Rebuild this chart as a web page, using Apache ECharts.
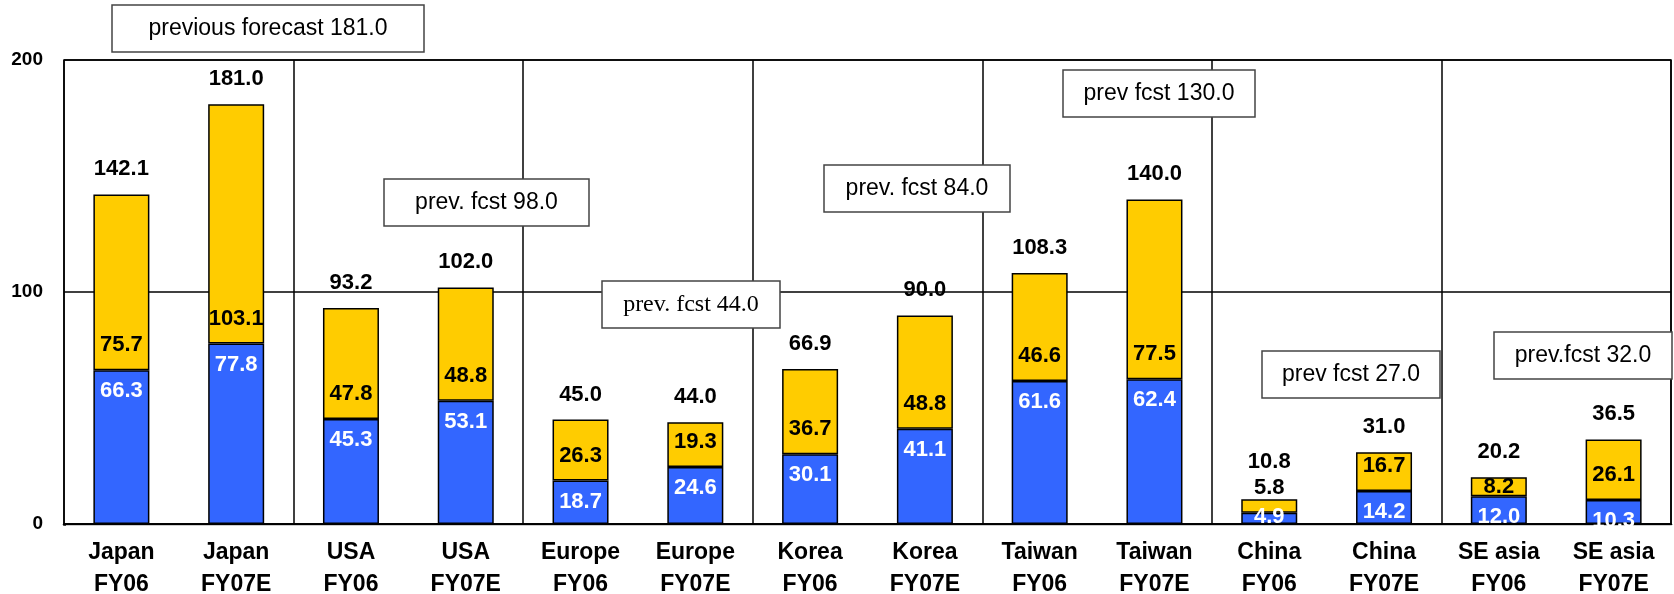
<!DOCTYPE html>
<html>
<head>
<meta charset="utf-8">
<script src="https://cdn.jsdelivr.net/npm/echarts@6/dist/echarts.min.js"></script>
<style>
  html, body { margin: 0; padding: 0; background: #ffffff; }
  #chart { width: 1674px; height: 594px; }
</style>
</head>
<body>
<div id="chart"></div>
<script>
// ---- data ----
const regions = ['Japan', 'Japan', 'USA', 'USA', 'Europe', 'Europe', 'Korea', 'Korea',
                 'Taiwan', 'Taiwan', 'China', 'China', 'SE asia', 'SE asia'];
const periods = ['FY06', 'FY07E', 'FY06', 'FY07E', 'FY06', 'FY07E', 'FY06', 'FY07E',
                 'FY06', 'FY07E', 'FY06', 'FY07E', 'FY06', 'FY07E'];
const lowerPart = [66.3, 77.8, 45.3, 53.1, 18.7, 24.6, 30.1, 41.1, 61.6, 62.4, 4.9, 14.2, 12.0, 10.3];
const upperPart = [75.7, 103.1, 47.8, 48.8, 26.3, 19.3, 36.7, 48.8, 46.6, 77.5, 5.8, 16.7, 8.2, 26.1];
const totals    = [142.1, 181.0, 93.2, 102.0, 45.0, 44.0, 66.9, 90.0, 108.3, 140.0, 10.8, 31.0, 20.2, 36.5];
const yTicks = [0, 100, 200];
const forecastNotes = ['previous forecast 181.0', 'prev. fcst 98.0', 'prev. fcst 44.0',
                       'prev. fcst 84.0', 'prev fcst 130.0', 'prev fcst 27.0', 'prev.fcst 32.0'];

// ---- layout / style ----
const SANS = 'Arial, "Liberation Sans", sans-serif';
const SERIF = '"Times New Roman", "Liberation Serif", serif';
const BLUE = '#3366FF';
const YELLOW = '#FFCC00';
// note boxes: [left, top, width, height, serif?]
const noteBoxes = [
  [112, 5, 312, 47, false],
  [384, 179, 205, 47, false],
  [602, 281, 178, 47, true],
  [824, 165, 186, 47, false],
  [1063, 70, 192, 47, false],
  [1262, 351, 178, 47, false],
  [1494, 332, 178, 47, false]
];
// small-bar label adjustments
const lowerLabelTweaks = { 10: { offset: [0, -17] } };
const upperLabelTweaks = { 12: { position: 'inside' } };
const totalLabelTweaks = { 10: { offset: [0, -12] } };

const fmt = p => Number(p.value).toFixed(1);
const boldLabel = { fontFamily: SANS, fontWeight: 'bold', fontSize: 22 };

function withTweaks(values, tweaks) {
  return values.map((v, i) => tweaks[i] ? { value: v, label: tweaks[i] } : v);
}

const categories = regions.map((r, i) => r + '\n' + periods[i]);

const chart = echarts.init(document.getElementById('chart'), null, { renderer: 'canvas' });

chart.setOption({
  animation: false,
  backgroundColor: '#ffffff',
  grid: {
    left: 64, right: 3, top: 60, bottom: 70,
    containLabel: false, outerBoundsMode: 'none',
    show: true, borderColor: '#000', borderWidth: 1.5, backgroundColor: 'transparent'
  },
  xAxis: {
    type: 'category',
    data: categories,
    axisLine: { show: true, lineStyle: { color: '#000', width: 2.5 } },
    axisTick: { show: false },
    axisLabel: {
      interval: 0, margin: 13, color: '#000',
      fontFamily: SANS, fontWeight: 'bold', fontSize: 23, lineHeight: 32
    },
    splitLine: {
      show: true,
      interval: idx => idx % 2 === 0,
      lineStyle: { color: '#000', width: 1.5 }
    }
  },
  yAxis: {
    type: 'value',
    min: yTicks[0], max: yTicks[yTicks.length - 1], interval: yTicks[1] - yTicks[0],
    axisLine: { show: false },
    axisTick: { show: false },
    axisLabel: { margin: 21, color: '#000', fontFamily: SANS, fontWeight: 'bold', fontSize: 19 },
    splitLine: { show: true, lineStyle: { color: '#000', width: 1.5 } }
  },
  series: [
    {
      name: 'lower',
      type: 'bar',
      stack: 'total',
      barWidth: 56,
      data: withTweaks(lowerPart, lowerLabelTweaks),
      itemStyle: { color: BLUE, borderColor: '#000', borderWidth: 1.5 },
      label: Object.assign({ show: true, position: 'insideTop', distance: 10, color: '#fff', formatter: fmt }, boldLabel)
    },
    {
      name: 'upper',
      type: 'bar',
      stack: 'total',
      barWidth: 56,
      data: withTweaks(upperPart, upperLabelTweaks),
      itemStyle: { color: YELLOW, borderColor: '#000', borderWidth: 1.5 },
      label: Object.assign({ show: true, position: 'insideBottom', distance: 14, color: '#000', formatter: fmt }, boldLabel)
    },
    {
      name: 'total',
      type: 'scatter',
      data: withTweaks(totals, totalLabelTweaks),
      symbol: 'circle',
      symbolSize: 0,
      itemStyle: { color: '#000', opacity: 1 },
      z: 5,
      label: Object.assign({ show: true, position: 'top', distance: 14, color: '#000', opacity: 1, formatter: fmt }, boldLabel)
    }
  ]
});

// forecast notes and a strip that keeps bar labels from spilling below the baseline
const y0 = chart.convertToPixel({ yAxisIndex: 0 }, 0);
const gridRect = chart.getModel().getComponent('grid', 0).coordinateSystem.getRect();
const graphics = [{
  type: 'rect', z: 50,
  shape: { x: gridRect.x + 2, y: y0 + 1.3, width: gridRect.width, height: 12 },
  style: { fill: '#ffffff' }
}];
noteBoxes.forEach((b, i) => {
  graphics.push({
    type: 'rect', z: 60,
    shape: { x: b[0], y: b[1], width: b[2], height: b[3] },
    style: { fill: '#ffffff', stroke: '#444', lineWidth: 1.5 }
  });
  graphics.push({
    type: 'text', z: 61,
    x: b[0] + b[2] / 2, y: b[1] + b[3] / 2,
    style: {
      text: forecastNotes[i],
      fill: '#000',
      font: (b[4] ? '24px ' + SERIF : '23px ' + SANS),
      align: 'center', verticalAlign: 'middle'
    }
  });
});
chart.setOption({ graphic: graphics });
</script>
</body>
</html>
